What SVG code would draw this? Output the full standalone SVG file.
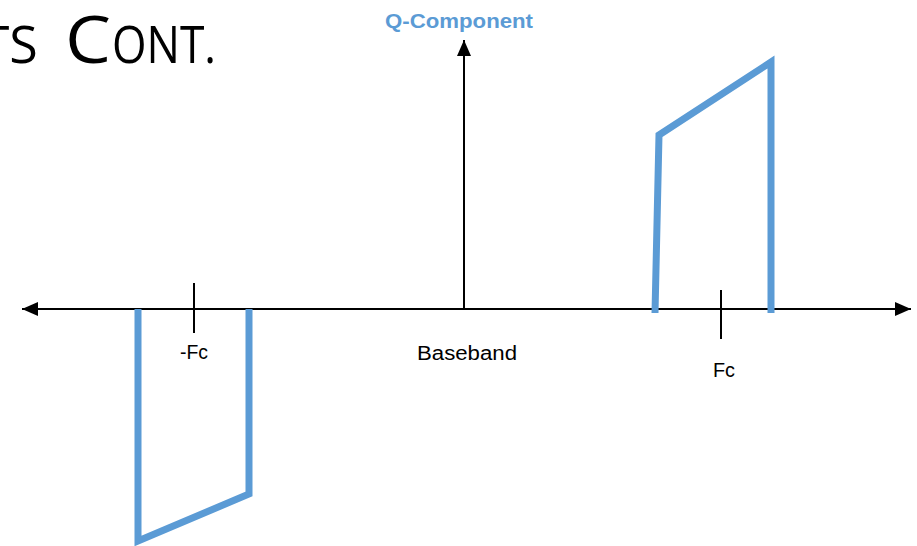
<svg xmlns="http://www.w3.org/2000/svg" width="917" height="546" viewBox="0 0 917 546">
  <style>
    .axis { stroke: #000; stroke-width: 2; fill: none; }
    .tick { stroke: #000; stroke-width: 2; }
    .spec { stroke: #5b9bd5; stroke-width: 7; fill: none; stroke-linejoin: miter; }
    .lbl { font-family: "Liberation Sans", Arial, sans-serif; font-size: 20px; fill: #000; }
    .title { font-family: "Open Sans", "Liberation Sans", sans-serif; font-weight: 400; fill: #000; }
  </style>
  <defs>
    <marker id="arrowB" viewBox="0 0 16 14" refX="16" refY="7" markerWidth="16" markerHeight="14" markerUnits="userSpaceOnUse" orient="auto">
      <path d="M0,0 L16,7 L0,14 z" fill="#000"/>
    </marker>
  </defs>

  <!-- slide title, small caps set by hand -->
  <text class="title" y="63">
    <tspan x="42" text-anchor="end" font-size="52">TS</tspan>
    <tspan x="65" font-size="66" textLength="46" lengthAdjust="spacingAndGlyphs">C</tspan>
    <tspan x="112" font-size="52" textLength="104" lengthAdjust="spacingAndGlyphs">ONT.</tspan>
  </text>

  <!-- axes -->
  <g id="connectors">
    <line class="axis" x1="464" y1="309" x2="22" y2="309" marker-end="url(#arrowB)"/>
    <line class="axis" x1="464" y1="309" x2="911" y2="309" marker-end="url(#arrowB)"/>
    <line class="axis" x1="464" y1="309" x2="464" y2="40" marker-end="url(#arrowB)"/>
  </g>

  <g id="q-component">
    <text x="459" y="28" text-anchor="middle" font-family="Liberation Sans, Arial, sans-serif" font-weight="bold" font-size="20" fill="#5b9bd5" textLength="148" lengthAdjust="spacingAndGlyphs">Q-Component</text>
  </g>

  <g id="neg-fc">
    <line class="tick" x1="194" y1="283" x2="194" y2="333"/>
    <text class="lbl" x="194" y="359" text-anchor="middle" textLength="28" lengthAdjust="spacingAndGlyphs">-Fc</text>
  </g>

  <g id="baseband">
    <text class="lbl" x="467" y="360" text-anchor="middle" textLength="100" lengthAdjust="spacingAndGlyphs">Baseband</text>
  </g>

  <g id="pos-fc">
    <line class="tick" x1="721" y1="290" x2="721" y2="339"/>
    <text class="lbl" x="724" y="377" text-anchor="middle" textLength="22" lengthAdjust="spacingAndGlyphs">Fc</text>
  </g>

  <!-- lower sideband, negative Q -->
  <g id="lower-band">
    <polyline class="spec" points="138,309 138,541 249,494 249,309"/>
  </g>

  <!-- upper sideband, positive Q -->
  <g id="upper-band">
    <polyline class="spec" points="655,313 659,135 771,62 771,313"/>
  </g>
</svg>
